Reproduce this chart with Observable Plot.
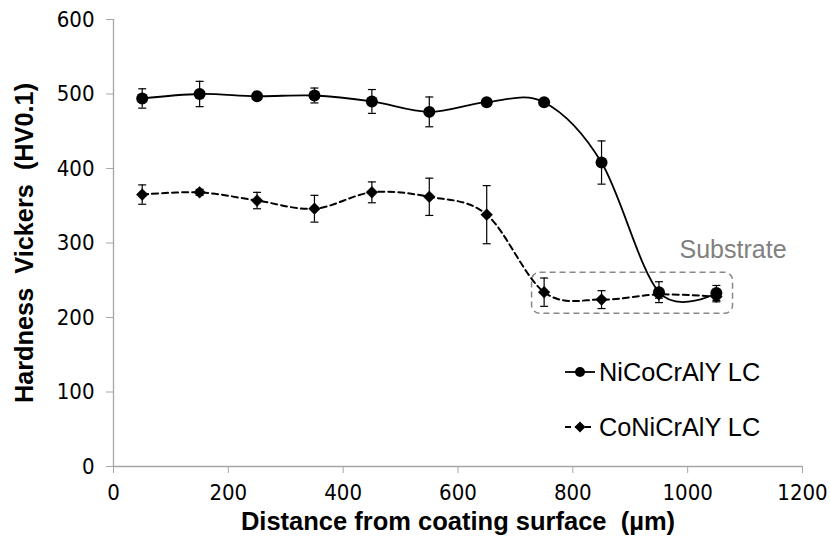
<!DOCTYPE html>
<html>
<head>
<meta charset="utf-8">
<script src="https://cdn.jsdelivr.net/npm/d3@7"></script>
<script src="https://cdn.jsdelivr.net/npm/@observablehq/plot@0.6"></script>
<style>
  html, body { margin: 0; padding: 0; background: #fff; }
  #wrap { position: relative; width: 830px; height: 547px; }
  #legend { position: absolute; left: 563px; top: 358px; font-family: "Liberation Sans", Arial, sans-serif; font-size: 25.3px; color: #000; }
  .row { display: flex; align-items: center; height: 28px; margin-bottom: 27px; }
  .row svg { margin-right: 2px; }
</style>
</head>
<body>
<div id="wrap"><div id="legend"></div></div>
<script>
// ---- data ----
const distance    = [50, 150, 250, 350, 450, 550, 650, 750, 850, 950, 1050];
const niHardness  = [494, 500, 497, 498, 490, 476, 489, 489, 408, 234, 233];
const niError     = [13, 17, 4, 10, 16, 20, 4, 4, 29, 14, 10];
const coHardness  = [365, 368, 357, 346, 368, 362, 338, 234, 224, 231, 228];
const coError     = [13, 4, 11, 18, 14, 25, 39, 19, 12, 5, 7];
const seriesNames = ["NiCoCrAlY LC", "CoNiCrAlY LC"];
const xTicks = [0, 200, 400, 600, 800, 1000, 1200];
const yTicks = [0, 100, 200, 300, 400, 500, 600];
const substrateX = [729, 1079];
const substrateY = [205, 260];
const substrateLabel = "Substrate";
const substrateLabelY = 291;
const xTitle = "Distance from coating surface  (\u00b5m)";
const yTitle = "Hardness  Vickers  (HV0.1)";

const ni = distance.map((x, i) => ({x, y: niHardness[i], e: niError[i]}));
const co = distance.map((x, i) => ({x, y: coHardness[i], e: coError[i]}));
const substrate = [{x1: substrateX[0], x2: substrateX[1], y1: substrateY[0], y2: substrateY[1], label: substrateLabel, ly: substrateLabelY}];

const cap = { draw(ctx) { ctx.moveTo(-4, 0); ctx.lineTo(4, 0); } };

function errorMarks(data, color) {
  return [
    Plot.ruleX(data, {x: "x", y1: d => d.y - d.e, y2: d => d.y + d.e, stroke: color, strokeWidth: 1.2}),
    Plot.dot(data, {x: "x", y: d => d.y - d.e, symbol: cap, stroke: color, strokeWidth: 1.2, fill: "none"}),
    Plot.dot(data, {x: "x", y: d => d.y + d.e, symbol: cap, stroke: color, strokeWidth: 1.2, fill: "none"})
  ];
}

const tickFont = "DejaVu Sans Condensed, DejaVu Sans, Verdana, sans-serif";

const chart = Plot.plot({
  width: 830,
  height: 547,
  marginLeft: 113,
  marginRight: 28,
  marginTop: 19,
  marginBottom: 81,
  style: {background: "white", color: "black", fontFamily: tickFont, fontSize: "22px"},
  x: {domain: [0, 1200]},
  y: {domain: [0, 600]},
  marks: [
    Plot.ruleX([0], {stroke: "#a6a6a6", strokeWidth: 1.3}),
    Plot.ruleY([0], {stroke: "#a6a6a6", strokeWidth: 1.3}),
    Plot.axisX({ticks: xTicks, tickFormat: d => String(d), tickSize: 7, tickPadding: 11, stroke: "#a6a6a6", fill: "black", fontSize: 22, fontFamily: tickFont, label: null}),
    Plot.axisY({ticks: yTicks, tickFormat: d => String(d), tickSize: 7, tickPadding: 12, stroke: "#a6a6a6", fill: "black", fontSize: 22, fontFamily: tickFont, label: null}),
    Plot.rect(substrate, {x1: "x1", x2: "x2", y1: "y1", y2: "y2", fill: "none", stroke: "#888", strokeWidth: 1.5, strokeDasharray: "6,4", rx: 8}),
    Plot.text(substrate, {x: "x2", y: "ly", text: "label", fill: "#808080", fontSize: 25, fontFamily: "Liberation Sans, Arial, sans-serif", textAnchor: "middle"}),
    // CoNiCrAlY (dashed, diamonds)
    Plot.line(co, {x: "x", y: "y", curve: "cardinal", stroke: "black", strokeWidth: 2, strokeDasharray: "6,4"}),
    ...errorMarks(co, "black"),
    Plot.dot(co, {x: "x", y: "y", symbol: "diamond2", r: 5.3, fill: "black", stroke: "black", strokeWidth: 0.5}),
    // NiCoCrAlY (solid, circles)
    Plot.line(ni, {x: "x", y: "y", curve: "cardinal", stroke: "black", strokeWidth: 1.8}),
    ...errorMarks(ni, "black"),
    Plot.dot(ni, {x: "x", y: "y", r: 6, fill: "black", stroke: "none"}),
    // axis titles
    Plot.text([xTitle], {frameAnchor: "bottom", dy: 63, text: d => d, textAnchor: "middle", fontWeight: "bold", fontSize: 25.5, fontFamily: "Liberation Sans, Arial, sans-serif", fill: "black"}),
    Plot.text([yTitle], {frameAnchor: "left", dx: -89, rotate: -90, text: d => d, textAnchor: "middle", fontWeight: "bold", fontSize: 25.3, fontFamily: "Liberation Sans, Arial, sans-serif", fill: "black"})
  ]
});
document.getElementById("wrap").prepend(chart);

// legend
const legend = d3.select("#legend");
seriesNames.forEach((name, i) => {
  const row = legend.append("div").attr("class", "row");
  const svg = row.append("svg").attr("width", 34).attr("height", 20);
  svg.append("line").attr("x1", 2).attr("x2", 32).attr("y1", 10).attr("y2", 10)
    .attr("stroke", "black").attr("stroke-width", 1.8)
    .attr("stroke-dasharray", i === 0 ? null : "6,4");
  if (i === 0) svg.append("circle").attr("cx", 17).attr("cy", 10).attr("r", 5).attr("fill", "black");
  else svg.append("path").attr("d", "M17,4.5L22.5,10L17,15.5L11.5,10Z").attr("fill", "black");
  row.append("span").text(name);
});
</script>
</body>
</html>
